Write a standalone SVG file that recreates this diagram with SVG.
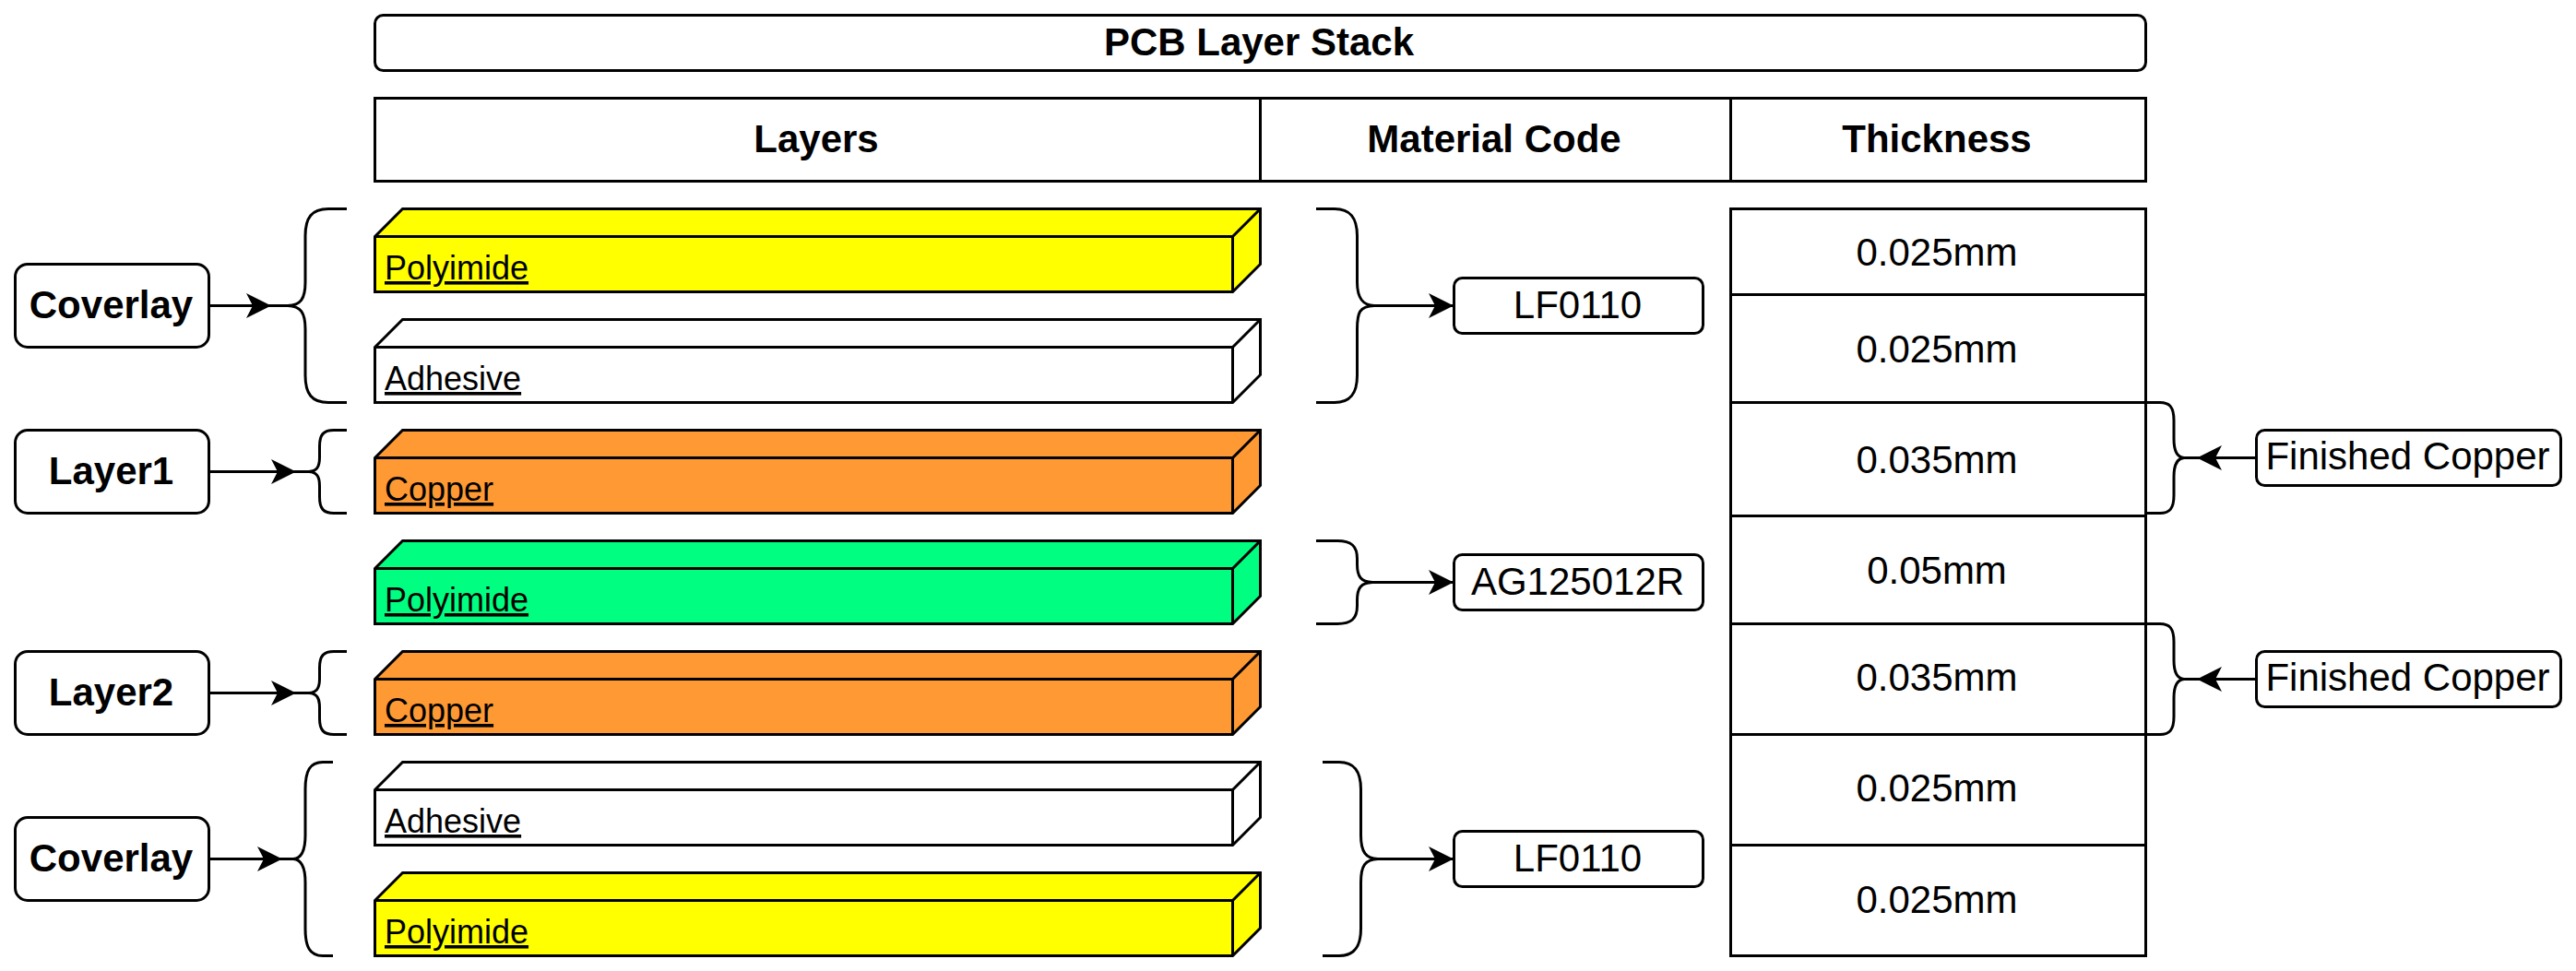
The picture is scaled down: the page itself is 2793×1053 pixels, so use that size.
<svg xmlns="http://www.w3.org/2000/svg" width="2793" height="1053" viewBox="0 0 2793 1053">
<style>
text{font-family:"Liberation Sans",Arial,Helvetica,sans-serif;font-size:42px;fill:#000;text-anchor:middle}
.b{font-weight:bold}
.u{font-size:36px;text-anchor:start;text-decoration:underline}
.s{fill:#fff;stroke:#000;stroke-width:3}
.y{fill:#ffff00}.o{fill:#ff9933}.g{fill:#00ff80}.w{fill:#fff}
.br{fill:none;stroke:#000;stroke-width:3}
.a{fill:none;stroke:#000;stroke-width:3;marker-end:url(#arrow)}
</style>
<defs>
<marker id="arrow" markerUnits="userSpaceOnUse" markerWidth="30" markerHeight="30" viewBox="0 0 30 30" refX="27" refY="15" orient="auto" overflow="visible"><path d="M0 1.5L27 15L0 28.5L7 15Z" fill="#000"/></marker>
<g id="cube" stroke="#000" stroke-width="3"><path d="M0 30L30 0H960V60L930 90H0Z"/><path fill="none" d="M0 30H930L960 0M930 30V90"/></g>
</defs>
<rect width="2793" height="1053" fill="#fff"/>
<g id="title"><rect class="s" x="406.5" y="16.5" width="1920" height="60" rx="9"/><text class="b" x="1365" y="60">PCB Layer Stack</text></g>
<g id="header">
<rect class="s" x="406.5" y="106.5" width="960" height="90"/><text class="b" x="885" y="165">Layers</text>
<rect class="s" x="1366.5" y="106.5" width="510" height="90"/><text class="b" x="1620" y="165">Material Code</text>
<rect class="s" x="1876.5" y="106.5" width="450" height="90"/><text class="b" x="2100" y="165">Thickness</text>
</g>
<g id="layer-polyimide-top"><use href="#cube" x="406.5" y="226.5" class="y"/><text class="u" x="417" y="303">Polyimide</text></g>
<g id="layer-adhesive-top"><use href="#cube" x="406.5" y="346.5" class="w"/><text class="u" x="417" y="423">Adhesive</text></g>
<g id="layer-copper-1"><use href="#cube" x="406.5" y="466.5" class="o"/><text class="u" x="417" y="543">Copper</text></g>
<g id="layer-polyimide-core"><use href="#cube" x="406.5" y="586.5" class="g"/><text class="u" x="417" y="663">Polyimide</text></g>
<g id="layer-copper-2"><use href="#cube" x="406.5" y="706.5" class="o"/><text class="u" x="417" y="783">Copper</text></g>
<g id="layer-adhesive-bottom"><use href="#cube" x="406.5" y="826.5" class="w"/><text class="u" x="417" y="903">Adhesive</text></g>
<g id="layer-polyimide-bottom"><use href="#cube" x="406.5" y="946.5" class="y"/><text class="u" x="417" y="1023">Polyimide</text></g>
<g id="t1"><rect class="s" x="1876.5" y="226.5" width="450" height="93"/><text x="2100" y="288">0.025mm</text></g>
<g id="t2"><rect class="s" x="1876.5" y="319.5" width="450" height="117"/><text x="2100" y="393">0.025mm</text></g>
<g id="t3"><rect class="s" x="1876.5" y="436.5" width="450" height="123"/><text x="2100" y="513">0.035mm</text></g>
<g id="t4"><rect class="s" x="1876.5" y="559.5" width="450" height="117"/><text x="2100" y="633">0.05mm</text></g>
<g id="t5"><rect class="s" x="1876.5" y="676.5" width="450" height="120"/><text x="2100" y="749">0.035mm</text></g>
<g id="t6"><rect class="s" x="1876.5" y="796.5" width="450" height="120"/><text x="2100" y="869">0.025mm</text></g>
<g id="t7"><rect class="s" x="1876.5" y="916.5" width="450" height="120"/><text x="2100" y="990">0.025mm</text></g>
<g id="coverlay-top"><rect class="s" x="16.5" y="286.5" width="210" height="90" rx="13.5"/><text class="b" x="120.5" y="345">Coverlay</text></g>
<g id="layer1"><rect class="s" x="16.5" y="466.5" width="210" height="90" rx="13.5"/><text class="b" x="120.5" y="525">Layer1</text></g>
<g id="layer2"><rect class="s" x="16.5" y="706.5" width="210" height="90" rx="13.5"/><text class="b" x="120.5" y="765">Layer2</text></g>
<g id="coverlay-bottom"><rect class="s" x="16.5" y="886.5" width="210" height="90" rx="13.5"/><text class="b" x="120.5" y="945">Coverlay</text></g>
<g id="code-top"><rect class="s" x="1576.5" y="301.5" width="270" height="60" rx="9"/><text x="1710.5" y="345">LF0110</text></g>
<g id="code-core"><rect class="s" x="1576.5" y="601.5" width="270" height="60" rx="9"/><text x="1710.5" y="645">AG125012R</text></g>
<g id="code-bottom"><rect class="s" x="1576.5" y="901.5" width="270" height="60" rx="9"/><text x="1710.5" y="945">LF0110</text></g>
<g id="finished-1"><rect class="s" x="2446.5" y="466.5" width="330" height="60" rx="9"/><text x="2610.5" y="509">Finished Copper</text></g>
<g id="finished-2"><rect class="s" x="2446.5" y="706.5" width="330" height="60" rx="9"/><text x="2610.5" y="749">Finished Copper</text></g>
<g id="connectors">
<path class="br" d="M376 226.5H356C338 226.5 331 236 331 256V306C331 324 326 331 312 331.5H293M376 436.5H356C338 436.5 331 427 331 407V357C331 339 326 332 312 331.5"/>
<path class="br" d="M376 466.5H362C351 466.5 346.5 471 346.5 484V496C346.5 507 343 511 335 511.5H320M376 556.5H362C351 556.5 346.5 552 346.5 539V527C346.5 516 343 512 335 511.5"/>
<path class="br" d="M376 706.5H362C351 706.5 346.5 711 346.5 724V736C346.5 747 343 751 335 751.5H320M376 796.5H362C351 796.5 346.5 792 346.5 779V767C346.5 756 343 752 335 751.5"/>
<path class="br" d="M361 826.5H350C336 826.5 331 836 331 856V906C331 924 326 931 318 931.5H305M361 1036.5H350C336 1036.5 331 1027 331 1007V957C331 939 326 932 318 931.5"/>
<path class="br" d="M1427 226.5H1447C1464 226.5 1471.5 236 1471.5 256V306C1471.5 324 1478 331 1490 331.5H1508M1427 436.5H1447C1464 436.5 1471.5 427 1471.5 407V357C1471.5 339 1474 332 1490 331.5"/>
<path class="br" d="M1427 586.5H1450C1465 586.5 1471.5 592 1471.5 606V612C1471.5 626 1476 631 1488 631.5H1496M1427 676.5H1450C1465 676.5 1471.5 671 1471.5 657V651C1471.5 637 1476 632 1488 631.5"/>
<path class="br" d="M1434 826.5H1452C1468 826.5 1475.5 836 1475.5 856V906C1475.5 924 1481 931 1494 931.5H1508M1434 1036.5H1452C1468 1036.5 1475.5 1027 1475.5 1007V957C1475.5 939 1480 932 1494 931.5"/>
<path class="br" d="M2326 436.5H2342C2352 436.5 2357 441 2357 456V476C2357 490 2361 496 2368 496.5H2382M2326 556.5H2342C2352 556.5 2357 552 2357 537V517C2357 503 2361 497 2368 496.5"/>
<path class="br" d="M2326 676.5H2342C2352 676.5 2357 681 2357 696V716C2357 730 2361 736 2368 736.5H2382M2326 796.5H2342C2352 796.5 2357 792 2357 777V757C2357 743 2361 737 2368 736.5"/>
<path class="a" d="M226.5 331.5H294"/>
<path class="a" d="M226.5 511.5H321"/>
<path class="a" d="M226.5 751.5H321"/>
<path class="a" d="M226.5 931.5H306"/>
<path class="a" d="M1508 331.5H1576"/>
<path class="a" d="M1496 631.5H1576"/>
<path class="a" d="M1508 931.5H1576"/>
<path class="a" d="M2446.5 496.5H2382"/>
<path class="a" d="M2446.5 736.5H2382"/>
</g>
</svg>
